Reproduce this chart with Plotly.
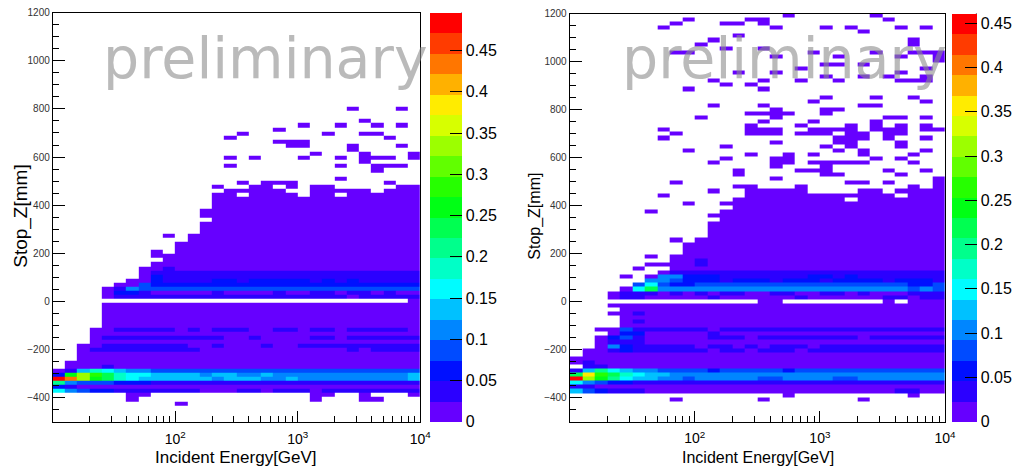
import colorsys
import plotly.graph_objects as go

# ---------------- data ----------------
# Each row string = 30 log-energy bins (10..1e4 GeV, 0.1 decade each), grouped 10|10|10.
# '.' = empty bin, '0'..'9','a'..'j' = colour level 0..19 (20 equal steps up to z max).
# Rows are listed top-down; the last string is the bin at Stop_Z = -500..-483 mm.
LEVEL_CHARS = "0123456789abcdefghij"

Z_MAX_LEFT = 0.496
Z_MAX_RIGHT = 0.461

LEFT_ROWS = [
    "..........|..........|....0...0.",  # 76
    "..........|..........|..........",
    "..........|..........|..........",
    "..........|..........|.....0....",
    "..........|..........|0..0..0.0.",  # 72
    "..........|........0.|..........",
    "..........|.....0....|..0..00...",
    "..........|....0.....|.......0..",
    "..........|........00|0.........",  # 68
    "..........|.........0|0...0...0.",
    "..........|..........|....0.....",
    "..........|..........|.0...0...0",
    "..........|....0.0...|0..0.000.0",  # 64
    "..........|..........|.....0....",
    "..........|....0.....|...0..000.",
    "..........|..........|......0...",
    "..........|..........|..........",  # 60
    "..........|..........|...0......",
    "..........|.....0.000|.......0..",
    "..........|...0..00.0|.00.....00",
    "..........|....00000.|.00000.000",  # 56
    "..........|...00.0000|.00.000000",
    "..........|...0000000|0000000000",
    "..........|...0000000|0000000000",
    "..........|...0000000|0000000000",  # 52
    "..........|..00000000|0000000000",
    "..........|..00000000|0000000000",
    "..........|...0000000|0000000000",
    "..........|..00000000|0000000000",  # 48
    "..........|..00000000|0000000000",
    "..........|..00000000|0000000000",
    ".........0|.000000000|0000000000",
    "..........|.000000000|0000000000",  # 44
    "..........|0000000000|0000000000",
    "..........|0000000000|0000000000",
    "........0.|0000000000|0000000000",
    "........00|0000000000|0000000000",  # 40
    ".........0|0000000000|0000000000",
    "........00|0000000000|0000000000",
    ".......001|0000000000|0000000000",
    ".......011|1111111111|1111111111",  # 36
    ".......021|1111111111|1111111111",
    "......0021|1112212222|2121211111",
    ".....00322|2222222222|2222222222",
    "....014333|3333333333|3333333333",  # 32
    "....022100|0001000010|0110110100",
    "....011111|1111111111|1111011111",
    "..........|..........|.........0",
    "....000000|0000000000|0000000000",  # 28
    "....000000|0000000000|0000000000",
    "....000000|0000000000|0000000000",
    "....000000|0000000000|0000000000",
    "....000000|0000000000|0000000000",  # 24
    "....000000|0000000000|0000000000",
    "...0011111|0101110011|0110111110",
    "...0000000|0000000000|0000000000",
    "...0111111|1111001000|0110111111",  # 20
    "...0000000|0000000000|0000000000",
    "..00111111|1001000100|1111111111",
    "..01111111|1100000000|0000101111",
    "..00000000|0000000000|0000000000",  # 16
    "..00000000|0000000000|0000000000",
    ".000000000|0000000000|0000000000",
    ".000100000|0000000000|0000000000",
    "0157654433|3333333333|3333333333",  # 12
    "2adb976655|5545544544|4444444445",
    "jhda976555|5554555445|4444444445",
    "8433322211|1111111111|1111111111",
    "2100000000|0000000000|0000000000",  # 8
    "6432211111|1100011011|1011111111",
    "......00..|..........|.00..0...0",
    "......0...|..........|.0...00...",
    "..........|0.........|..........",  # 4
    "..........|..........|..........",
    "..........|..........|..........",
    "..........|..........|..........",
    "..........|..........|..........",  # 0
]

RIGHT_ROWS = [
    "..........|.......0..|....0.....",  # 99
    ".........0|....00....|.....0....",
    "........0.|..00.0....|..........",
    ".......0..|......0...|0.0...0.0.",  # 96
    "..........|..........|...0......",
    "..........|...0......|..........",
    "..........|.0........|.......0..",
    "..........|0.........|.......0..",  # 92
    "..........|..0..0....|..........",
    "........00|.........0|....0..000",
    "..........|......0...|.0....0..0",
    "..........|..........|.........0",  # 88
    "..........|..........|00.0......",
    "..........|........0.|........0.",
    "..........|...0..0...|......0...",
    "..........|..........|0..0.0..0.",  # 84
    "..........|.0...0..0.|.0....000.",
    "..........|..0.0.....|..........",
    ".........0|.....0....|..........",
    "..........|..........|..........",  # 80
    "..........|..........|0...0..0..",
    "..........|.........0|........0.",
    "..........|.0...0....|...00.....",
    "..........|......0...|00........",  # 76
    "..........|....0000..|0.........",
    "..........|0.....0...|.....00.0.",
    "..........|.....0...0|....0.....",
    "..........|....0...0.|..0.0.0.0.",  # 72
    ".......0..|....000..0|000.000.00",
    "........0.|....000.00|0.00.00...",
    ".......0..|..........|.000.0..0.",
    "..........|......0...|.00...0...",  # 68
    "..........|..0.......|0.0...0...",
    ".........0|..........|.0.0....0.",
    "..........|....0..0.0|...0...0..",
    "..........|..0...00..|....0.0...",  # 64
    "..........|.0....00.0|0000...0..",
    "..........|......0...|0.........",
    "..........|...0....00|0....0..0.",
    "..........|...0......|00....0...",  # 60
    "..........|......0...|.........0",
    "........0.|..........|..00.0...0",
    "..........|...00...0.|.......0.0",
    "..........|.0..00000.|...00.0000",  # 56
    ".......0..|....000000|000000.000",
    "..........|...0000000|00.0000000",
    ".........0|..00000000|0000000000",
    "..........|...0000000|0000000000",  # 52
    "......0...|..00000000|0000000000",
    "..........|.000000000|0000000000",
    "..........|..00000000|0000000000",
    "..........|.000000000|0000000000",  # 48
    "..........|.000000000|0000000000",
    "..........|.000000000|0000000000",
    "..........|.000000000|0000000000",
    "........0.|0000000000|0000000000",  # 44
    ".........0|0000000000|0000000000",
    ".........0|0000000000|0000000000",
    ".........0|0000000000|0000000000",
    "......0.00|0000000000|0000000000",  # 40
    "........00|1000000000|0000000000",
    "......0000|1000000000|0000000000",
    ".....0..00|0000000000|0000000000",
    ".......011|1111111111|1111111111",  # 36
    "....0.0442|2211111112|2121111111",
    "......4432|2212221222|1222212221",
    ".....36322|3333333333|3333333223",
    "....069444|4444444444|4444444343",  # 32
    "...0111010|1011001100|1101000111",
    "...0110000|0100000010|0000011011",
    "..........|.....00...|.....0.000",
    "...0000000|0000000000|0000000000",  # 28
    "....000000|0000000000|0000000000",
    "...0010000|0000000000|0000000000",
    "....000000|0000000000|0000000000",
    "....010000|0000000000|0000000000",  # 24
    "....000000|0000000000|0000000000",
    "..00311111|1011111111|1111111111",
    "...0220000|0100000000|0000000000",
    "..02310000|0111011111|1110111111",  # 20
    "..01110000|0000000000|0000000000",
    "..04211111|0110101110|1111111111",
    ".001211111|1011011101|1111111111",
    ".000000000|0000000000|0000000000",  # 16
    "0000000000|0000000000|0000000000",
    "0100000000|0000000000|0000000000",
    ".110000000|0000000000|0000000000",
    "1586544333|3233333233|3333333333",  # 12
    "9fb9765544|4444444444|4444444444",
    "jda8655443|4444433444|4334444444",
    "6432211111|1111111111|1111111111",
    "1100000000|0000000000|0000000000",  # 8
    "5321110000|0000000000|0000001100",
    "..........|.......0..|.......0..",
    "........0.|.....0....|...0......",
    "..........|..........|..........",  # 4
    "..........|..........|..........",
    "..........|..........|..........",
    "..........|..........|..........",
    "..........|..........|..........",  # 0
]

# binning of the histograms
N_XBINS = 30
LOG_E_MIN, LOG_E_MAX = 1.0, 4.0
N_YBINS = 100
Z_MIN_MM, Z_MAX_MM = -500.0, 1200.0

Y_TICKS = [-400, -200, 0, 200, 400, 600, 800, 1000, 1200]
X_TICKS = [100, 1000, 10000]
X_TICKTEXT = ["10<sup>2</sup>", "10<sup>3</sup>", "10<sup>4</sup>"]
CB_TICKS = [0, 0.05, 0.1, 0.15, 0.2, 0.25, 0.3, 0.35, 0.4, 0.45]
CB_TICKTEXT = ["0", "0.05", "0.1", "0.15", "0.2", "0.25", "0.3", "0.35", "0.4", "0.45"]

# ---------------- build ----------------
W, H = 1024, 468
FONT = "Liberation Sans, Arial, sans-serif"

x_edges = [10 ** (LOG_E_MIN + (LOG_E_MAX - LOG_E_MIN) * i / N_XBINS) for i in range(N_XBINS + 1)]
y_edges = [Z_MIN_MM + (Z_MAX_MM - Z_MIN_MM) * k / N_YBINS for k in range(N_YBINS + 1)]


def decode(rows, zmax):
    z = [[None] * N_XBINS for _ in range(N_YBINS)]
    top = len(rows) - 1
    for i, r in enumerate(rows):
        s = r.replace("|", "")
        s = (s + "." * N_XBINS)[:N_XBINS]
        k = top - i
        for c, ch in enumerate(s):
            if ch != ".":
                lev = LEVEL_CHARS.index(ch)
                z[k][c] = (lev + 0.5) * zmax / len(LEVEL_CHARS)
    return z


# ROOT-like rainbow palette (hue 264 -> 0), 20 discrete contour colours
n = len(LEVEL_CHARS)
pal = []
for i in range(n):
    h = (264.0 - i * 264.0 / (n - 1)) / 360.0
    r, g, b = colorsys.hls_to_rgb(h, 0.5, 1.0)
    pal.append("rgb(%d,%d,%d)" % (round(r * 255), round(g * 255), round(b * 255)))
cscale = []
for i, col in enumerate(pal):
    cscale.append([i / n, col])
    cscale.append([(i + 1) / n, col])


def px_x(p):
    return p / W


def px_y(p):
    return 1 - p / H


panels = [
    dict(rows=LEFT_ROWS, zmax=Z_MAX_LEFT, xl=53.3, xr=424.3, yt=12.7, yb=421.7,
         cbx=434, cbw=32, ax="x", ay="y", wm_x=268, ytfs=19, xtfs=17,
         ytx=21, xtx=238.5),
    dict(rows=RIGHT_ROWS, zmax=Z_MAX_RIGHT, xl=575.3, xr=954.3, yt=13.5, yb=421.6,
         cbx=961, cbw=25, ax="x2", ay="y2", wm_x=792, ytfs=16, xtfs=16,
         ytx=540, xtx=765),
]

fig = go.Figure()
annotations = []
shapes = []
minor_x = [m * 10 ** d for d in (1, 2, 3) for m in range(2, 10)]

for p in panels:
    z = decode(p["rows"], p["zmax"])
    fig.add_trace(go.Heatmap(
        x=x_edges, y=y_edges, z=z, zmin=0, zmax=p["zmax"], colorscale=cscale,
        xaxis=p["ax"], yaxis=p["ay"], hoverinfo="skip",
        colorbar=dict(
            x=px_x(p["cbx"]), xanchor="left", xpad=0, ypad=0,
            y=px_y(p["yb"]), yanchor="bottom", len=(p["yb"] - p["yt"]) / H, lenmode="fraction",
            thickness=p["cbw"], thicknessmode="pixels", outlinewidth=0,
            tickmode="array", tickvals=CB_TICKS, ticktext=CB_TICKTEXT,
            ticks="inside", ticklen=12, tickcolor="black", tickwidth=1.2,
            tickfont=dict(family=FONT, size=16, color="black"),
        ),
    ))
    axx = dict(type="log", domain=[px_x(p["xl"]), px_x(p["xr"])], range=[LOG_E_MIN, LOG_E_MAX],
               showline=True, mirror=True, linecolor="black", linewidth=1,
               ticks="inside", ticklen=11, tickcolor="black", tickwidth=1,
               tickmode="array", tickvals=X_TICKS, ticktext=X_TICKTEXT,
               tickfont=dict(family=FONT, size=14, color="black"), ticklabelstandoff=4,
               minor=dict(ticks="inside", ticklen=6, tickcolor="black", tickmode="array",
                          tickvals=minor_x, showgrid=False),
               showgrid=False, zeroline=False, automargin=False,
               anchor=p["ay"])
    axy = dict(domain=[px_y(p["yb"]), px_y(p["yt"])], range=[Z_MIN_MM, Z_MAX_MM],
               showline=True, mirror=True, linecolor="black", linewidth=1,
               ticks="inside", ticklen=12, tickcolor="black", tickwidth=1,
               tickmode="array", tickvals=Y_TICKS,
               tickfont=dict(family=FONT, size=10, color="#333333"),
               minor=dict(ticks="inside", ticklen=6, tickcolor="black", dtick=50, tick0=0,
                          showgrid=False),
               showgrid=False, zeroline=False, automargin=False,
               anchor=p["ax"])
    if p["ax"] == "x":
        fig.update_layout(xaxis=axx, yaxis=axy)
    else:
        fig.update_layout(xaxis2=axx, yaxis2=axy)

    # right edge line of palette axis
    xr_cb = px_x(p["cbx"] + p["cbw"])
    shapes.append(dict(type="line", xref="paper", yref="paper", x0=xr_cb, x1=xr_cb,
                       y0=px_y(p["yb"]), y1=px_y(p["yt"]), line=dict(color="black", width=1)))
    # titles
    annotations.append(dict(text="Incident Energy[GeV]", xref="paper", yref="paper",
                            x=px_x(p["xtx"]), y=px_y(457), xanchor="center", yanchor="middle",
                            showarrow=False, font=dict(family=FONT, size=p["xtfs"], color="black")))
    annotations.append(dict(text="Stop_Z[mm]", xref="paper", yref="paper", textangle=-90,
                            x=px_x(p["ytx"]), y=px_y(216), xanchor="center", yanchor="middle",
                            showarrow=False, font=dict(family=FONT, size=p["ytfs"], color="black")))
    annotations.append(dict(text="preliminary", xref="paper", yref="paper",
                            x=px_x(p["wm_x"]), y=px_y(58), xanchor="center", yanchor="middle",
                            showarrow=False,
                            font=dict(family="DejaVu Sans", size=57, color="rgba(140,140,140,0.6)")))

fig.update_layout(width=W, height=H, margin=dict(l=0, r=0, t=0, b=0),
                  paper_bgcolor="white", plot_bgcolor="white", showlegend=False,
                  annotations=annotations, shapes=shapes)
fig.write_html("out.html")
